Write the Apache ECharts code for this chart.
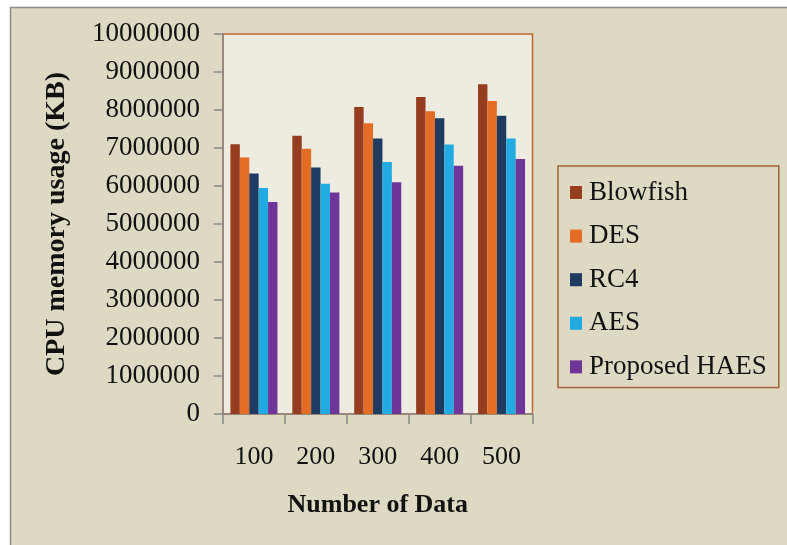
<!DOCTYPE html>
<html>
<head>
<meta charset="utf-8">
<script src="https://cdn.jsdelivr.net/npm/echarts@6/dist/echarts.min.js"></script>
<style>
  html, body { margin: 0; padding: 0; background: #ffffff; }
  #chart { width: 787px; height: 545px; }
</style>
</head>
<body>
<div id="chart"></div>
<script>
// Number of data items processed
const categories = ['100', '200', '300', '400', '500'];

// CPU memory usage (KB) per algorithm
const blowfish = [7100000, 7320000, 8080000, 8340000, 8680000];
const des      = [6750000, 6980000, 7650000, 7970000, 8240000];
const rc4      = [6330000, 6490000, 7250000, 7780000, 7850000];
const aes      = [5950000, 6060000, 6630000, 7090000, 7250000];
const haes     = [5580000, 5830000, 6100000, 6530000, 6710000];

const seriesNames = ['Blowfish', 'DES', 'RC4', 'AES', 'Proposed HAES'];
const seriesData = [blowfish, des, rc4, aes, haes];
const colors = ['#953d1e', '#e46c24', '#1e3c62', '#21abe2', '#6f3598'];

const serif = '"Liberation Serif", "Times New Roman", serif';
const textColor = '#111111';
const axisGray = '#888888';

const chart = echarts.init(document.getElementById('chart'), null, { renderer: 'canvas' });

chart.setOption({
  animation: false,
  backgroundColor: '#ffffff',
  graphic: [{
    type: 'rect',
    z: -10,
    silent: true,
    shape: { x: 10.5, y: 7.5, width: 800, height: 560 },
    style: { fill: '#ddd9c3', stroke: '#8c8c8c', lineWidth: 1.5 }
  }],
  grid: {
    left: 223,
    top: 34,
    right: 254.5,
    bottom: 131,
    show: true,
    backgroundColor: '#eeece1',
    borderColor: '#c0652e',
    borderWidth: 1.5
  },
  legend: {
    data: seriesNames,
    orient: 'vertical',
    left: 558,
    top: 166,
    icon: 'rect',
    itemWidth: 12,
    itemHeight: 13,
    itemGap: 16.6,
    padding: [13, 12, 7, 12],
    borderColor: '#a5613a',
    borderWidth: 1.5,
    backgroundColor: '#ddd9c3',
    textStyle: {
      fontFamily: serif,
      fontSize: 27,
      lineHeight: 26,
      padding: [0, 0, 0, 2],
      color: textColor
    }
  },
  xAxis: {
    type: 'category',
    data: categories,
    name: 'Number of Data',
    nameLocation: 'middle',
    nameGap: 78,
    nameTextStyle: { fontFamily: serif, fontSize: 26, fontWeight: 'bold', color: textColor },
    axisLine: { lineStyle: { color: axisGray, width: 1.5 } },
    axisTick: { show: true, length: 10, lineStyle: { color: axisGray, width: 1.5 } },
    axisLabel: { fontFamily: serif, fontSize: 26, color: textColor, margin: 30 }
  },
  yAxis: {
    type: 'value',
    min: 0,
    max: 10000000,
    interval: 1000000,
    name: 'CPU memory usage (KB)',
    nameLocation: 'middle',
    nameGap: 152,
    nameTextStyle: { fontFamily: serif, fontSize: 28, fontWeight: 'bold', color: textColor },
    axisLine: { show: true, lineStyle: { color: axisGray, width: 1.5 } },
    axisTick: { show: true, length: 9, lineStyle: { color: axisGray, width: 1.5 } },
    splitLine: { show: false },
    axisLabel: {
      fontFamily: serif,
      fontSize: 27,
      color: textColor,
      margin: 23,
      formatter: (v) => String(v)
    }
  },
  series: seriesNames.map((name, i) => ({
    name: name,
    type: 'bar',
    data: seriesData[i],
    barGap: '0%',
    barCategoryGap: '24%',
    itemStyle: { color: colors[i] }
  }))
});
</script>
</body>
</html>
